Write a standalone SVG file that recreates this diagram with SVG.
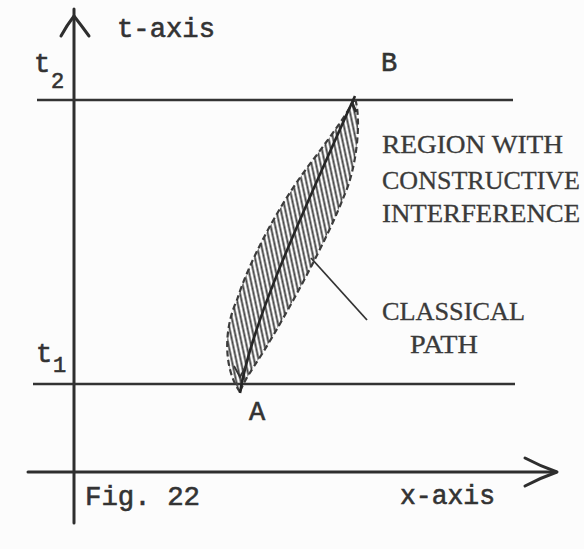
<svg xmlns="http://www.w3.org/2000/svg" width="584" height="549" viewBox="0 0 584 549">
  <defs>
    <style>
      .ax { stroke: #2e2e2e; stroke-width: 3; fill: none; stroke-linecap: round; stroke-linejoin: round; }
      .ln { stroke: #333; stroke-width: 2.6; fill: none; }
      .mono { font-family: "Liberation Mono", "DejaVu Sans Mono", monospace; fill: #333; stroke: #333; stroke-width: 0.6; }
      .caps { font-family: "Liberation Serif", "DejaVu Serif", serif; fill: #3a3a3a; font-size: 25px; stroke: #3a3a3a; stroke-width: 0.3; }
      .dash { stroke: #3c3c3c; stroke-width: 2.2; fill: none; stroke-dasharray: 6 3.5; }
      .center { stroke: #262626; stroke-width: 2.6; fill: none; }
      .lead { stroke: #333; stroke-width: 1.8; fill: none; }
    </style>
    <pattern id="hatch" patternUnits="userSpaceOnUse" width="4.4" height="20" patternTransform="rotate(-12)">
      <line x1="2.2" y1="0" x2="2.2" y2="20" stroke="#444" stroke-width="1.9"/>
    </pattern>
  </defs>
  <rect width="584" height="549" fill="#fcfcfc"/>

  <g id="t-axis">
    <line class="ax" x1="74" y1="9" x2="74" y2="523"/>
    <path class="ax" d="M61,36 Q67,25 74,16 Q81,25 89,36"/>
    <text class="mono" x="117" y="37" font-size="27" textLength="98" lengthAdjust="spacingAndGlyphs">t-axis</text>
  </g>

  <g id="x-axis">
    <line class="ax" x1="28" y1="472" x2="556" y2="472"/>
    <path class="ax" d="M525,458 Q540,466 557,472 Q540,478 525,486"/>
    <text class="mono" x="400" y="504" font-size="27" textLength="95" lengthAdjust="spacingAndGlyphs">x-axis</text>
  </g>

  <g id="t2-line">
    <line class="ln" x1="37" y1="100" x2="513" y2="100"/>
    <text class="mono" x="34" y="72" font-size="27">t</text>
    <text class="mono" x="51" y="88" font-size="22">2</text>
  </g>

  <g id="t1-line">
    <line class="ln" x1="33" y1="384" x2="515" y2="384"/>
    <text class="mono" x="36" y="362" font-size="27">t</text>
    <text class="mono" x="53" y="372" font-size="22">1</text>
  </g>

  <g id="region">
    <path fill="url(#hatch)" d="M240,392 C224,370 223,330 237,300 C249,262 279,203 316,156 C333,133 347,114 355,98 C362,122 356,170 344,196 C328,238 288,312 262,354 C251,371 244,381 240,392 Z"/>
    <path class="dash" d="M240,392 C224,370 223,330 237,300 C249,262 279,203 316,156 C333,133 347,114 355,98 C362,122 356,170 344,196 C328,238 288,312 262,354 C251,371 244,381 240,392 Z"/>
  </g>

  <g id="classical-path">
    <path class="center" d="M240,393 C250,330 290,240 355,96"/>
    <path class="lead" d="M234,366 L240,377 L246,366"/>
    <line x1="352" y1="103" x2="356" y2="112" stroke="#2a2a2a" stroke-width="3"/>
  </g>

  <g id="point-A">
    <text class="mono" x="249" y="420" font-size="27">A</text>
  </g>
  <g id="point-B">
    <text class="mono" x="381" y="71" font-size="27">B</text>
  </g>

  <g id="label-region">
    <text class="caps" x="382" y="153" textLength="181" lengthAdjust="spacingAndGlyphs">REGION WITH</text>
    <text class="caps" x="382" y="189" textLength="198" lengthAdjust="spacingAndGlyphs">CONSTRUCTIVE</text>
    <text class="caps" x="382" y="222" textLength="198" lengthAdjust="spacingAndGlyphs">INTERFERENCE</text>
  </g>

  <g id="label-classical">
    <text class="caps" x="382" y="320" textLength="143" lengthAdjust="spacingAndGlyphs">CLASSICAL</text>
    <text class="caps" x="410" y="353" textLength="68" lengthAdjust="spacingAndGlyphs">PATH</text>
  </g>

  <g id="connectors">
    <line class="lead" x1="311" y1="258" x2="367" y2="320"/>
  </g>

  <g id="caption">
    <text class="mono" x="85" y="505" font-size="27" textLength="115" lengthAdjust="spacingAndGlyphs">Fig. 22</text>
  </g>
</svg>
